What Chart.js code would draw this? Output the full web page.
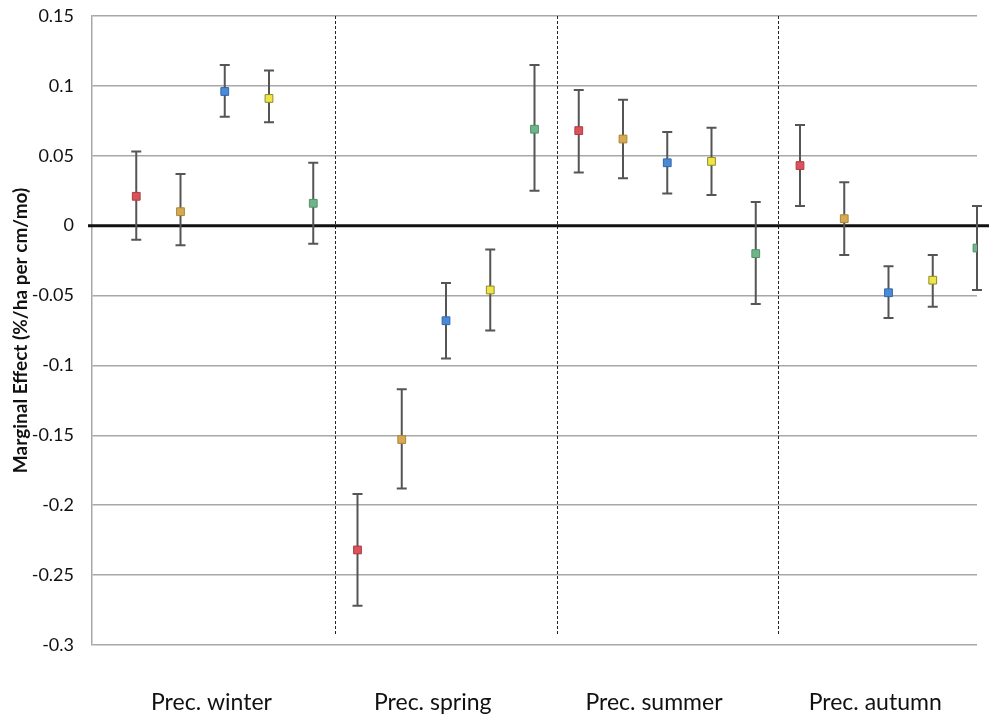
<!DOCTYPE html>
<html>
<head>
<meta charset="utf-8">
<script src="https://cdn.jsdelivr.net/npm/chart.js@4.4.1/dist/chart.umd.min.js"></script>
<style>
  html, body { margin: 0; padding: 0; background: #fff; }
  #wrap { width: 989px; height: 718px; position: relative; }
</style>
</head>
<body>
<div id="wrap"><canvas id="myChart"></canvas></div>
<script>
// groups along the x axis
const groups = ["Prec. winter", "Prec. spring", "Prec. summer", "Prec. autumn"];
const yTicks = [0.15, 0.1, 0.05, 0, -0.05, -0.1, -0.15, -0.2, -0.25, -0.3];

// marginal effect per series, one value per group
const redVals    = [0.021, -0.232, 0.068, 0.043];
const redLow     = [-0.010, -0.272, 0.038, 0.014];
const redHigh    = [0.053, -0.192, 0.097, 0.072];

const goldVals   = [0.010, -0.153, 0.062, 0.005];
const goldLow    = [-0.014, -0.188, 0.034, -0.021];
const goldHigh   = [0.037, -0.117, 0.090, 0.031];

const blueVals   = [0.096, -0.068, 0.045, -0.048];
const blueLow    = [0.078, -0.095, 0.023, -0.066];
const blueHigh   = [0.115, -0.041, 0.067, -0.029];

const yellowVals = [0.091, -0.046, 0.046, -0.039];
const yellowLow  = [0.074, -0.075, 0.022, -0.058];
const yellowHigh = [0.111, -0.017, 0.070, -0.021];

const greenVals  = [0.016, 0.069, -0.020, -0.016];
const greenLow   = [-0.013, 0.025, -0.056, -0.046];
const greenHigh  = [0.045, 0.115, 0.017, 0.014];

const series = [
  { vals: redVals, low: redLow, high: redHigh, fill: "#d9535b", edge: "#b23a42" },
  { vals: goldVals, low: goldLow, high: goldHigh, fill: "#d6aa52", edge: "#ad8535" },
  { vals: blueVals, low: blueLow, high: blueHigh, fill: "#4d8ad6", edge: "#3066ad" },
  { vals: yellowVals, low: yellowLow, high: yellowHigh, fill: "#eee647", edge: "#8f8a2a" },
  { vals: greenVals, low: greenLow, high: greenHigh, fill: "#70b58a", edge: "#4f9068" },
];

const perGroup = series.length;

const datasets = series.map((s, si) => ({
  data: s.vals.map((v, gi) => ({ x: gi * perGroup + si, y: v, lo: s.low[gi], hi: s.high[gi] })),
  backgroundColor: s.fill,
  borderColor: s.edge,
  borderWidth: 1,
  pointStyle: "rect",
  pointRadius: 5.5,
  pointHoverRadius: 5.5,
  showLine: false,
}));

// zero line, group separators and error bars
const extrasPlugin = {
  id: "extras",
  beforeDatasetsDraw(chart) {
    const ctx = chart.ctx;
    const xs = chart.scales.x;
    const ys = chart.scales.y;
    const area = chart.chartArea;
    ctx.save();

    // dashed separators between groups
    ctx.strokeStyle = "#222";
    ctx.lineWidth = 1;
    ctx.setLineDash([3, 2]);
    for (let g = 1; g < groups.length; g++) {
      const px = Math.round(xs.getPixelForValue(g * perGroup - 0.5)) + 0.5;
      ctx.beginPath();
      ctx.moveTo(px, area.top);
      ctx.lineTo(px, ys.getPixelForValue(-0.293));
      ctx.stroke();
    }
    ctx.setLineDash([]);

    // thick zero line
    const zy = ys.getPixelForValue(0);
    ctx.strokeStyle = "#111";
    ctx.lineWidth = 3;
    ctx.beginPath();
    ctx.moveTo(area.left - 4, zy);
    ctx.lineTo(chart.width, zy);
    ctx.stroke();

    // error bars
    ctx.strokeStyle = "#555";
    ctx.lineWidth = 2;
    chart.data.datasets.forEach((ds) => {
      ds.data.forEach((p) => {
        const px = xs.getPixelForValue(p.x);
        const pl = ys.getPixelForValue(p.lo);
        const ph = ys.getPixelForValue(p.hi);
        ctx.beginPath();
        ctx.moveTo(px, pl);
        ctx.lineTo(px, ph);
        ctx.moveTo(px - 5, pl);
        ctx.lineTo(px + 5, pl);
        ctx.moveTo(px - 5, ph);
        ctx.lineTo(px + 5, ph);
        ctx.stroke();
      });
    });
    ctx.restore();
  },
};

const ctx = document.getElementById("myChart").getContext("2d");
const myChart = new Chart(ctx, {
  type: "scatter",
  data: { datasets: datasets },
  options: {
    responsive: true,
    maintainAspectRatio: false,
    animation: false,
    layout: { padding: { top: 16, right: 12, bottom: 0, left: 0 } },
    plugins: { legend: { display: false }, tooltip: { enabled: false } },
    scales: {
      x: {
        type: "linear",
        min: -1,
        max: groups.length * perGroup - 1,
        afterFit: (s) => { s.height = 73; },
        afterBuildTicks: (s) => {
          s.ticks = groups.map((g, gi) => ({ value: gi * perGroup + 2 - 0.3 }));
        },
        ticks: {
          padding: 44,
          color: "#111",
          font: { family: "Lato, 'Open Sans', sans-serif", size: 23 },
          callback: (v, i) => groups[i],
        },
        grid: { display: false, drawTicks: false },
        border: { display: false },
      },
      y: {
        min: -0.3,
        max: 0.15,
        afterFit: (s) => {
          s.width = 92;
          s.paddingTop = 0;
          s.paddingBottom = 0;
        },
        afterBuildTicks: (s) => {
          s.ticks = yTicks.map((v) => ({ value: v }));
        },
        ticks: {
          padding: 18,
          color: "#111",
          font: { family: "Lato, 'Open Sans', sans-serif", size: 18 },
          callback: (v) => String(parseFloat(Number(v).toFixed(2))),
        },
        grid: { color: "#a8a8a8", lineWidth: 1.5, drawTicks: false },
        border: { display: true, color: "#a8a8a8", width: 1.5 },
        title: {
          display: true,
          text: "Marginal Effect (%/ha per cm/mo)",
          color: "#111",
          font: { family: "Lato, 'Open Sans', sans-serif", size: 19, weight: "bold" },
          padding: { top: 9, bottom: 0 },
        },
      },
    },
  },
  plugins: [extrasPlugin],
});
</script>
</body>
</html>
